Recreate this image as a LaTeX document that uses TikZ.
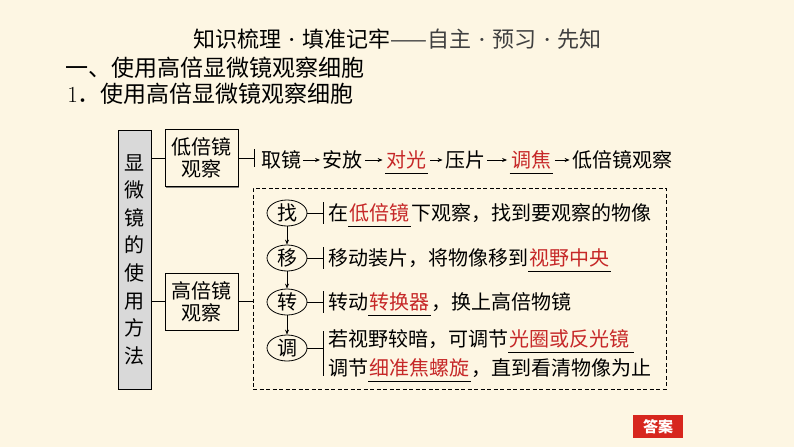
\documentclass[tikz,border=0pt]{standalone}
\usepackage{fontspec}
\newfontfamily\cjk{Noto Sans CJK SC}
\usetikzlibrary{shapes.geometric,arrows.meta,shadows}

\definecolor{sfondo}{HTML}{FDF6E3}
\definecolor{rosso}{HTML}{C62828}
\definecolor{barra}{HTML}{D9D9D9}
\definecolor{bottone}{HTML}{D7261E}

% risposta sottolineata in rosso
\newcommand{\ans}[1]{\leavevmode\setbox0\hbox{\kern1.5pt\textcolor{rosso}{#1}\kern1.5pt}\rlap{\rule[-6pt]{\wd0}{0.9pt}}\box0}
% punto centrale stretto
\newcommand{\pto}{{\rmfamily\bfseries\kern1pt·\kern1pt}}

\begin{document}
\begin{tikzpicture}[x=1pt, y=-1pt, line width=0.8pt,
    testo/.style={font=\cjk\fontsize{20}{24}\selectfont, inner sep=0pt, text height=16.8pt, text depth=1.6pt},
    titoletto/.style={font=\cjk\fontsize{23}{24}\selectfont, inner sep=0pt, anchor=west, text height=19.3pt, text depth=1.8pt},
    ombra/.style={drop shadow={shadow xshift=1.3pt, shadow yshift=-1.3pt, fill=black!70, opacity=0.7}},
    blocco/.style={draw, line width=0.9pt, fill=sfondo, ombra, align=center, inner sep=0pt,
        font=\cjk\fontsize{20}{22}\selectfont, minimum width=73pt, minimum height=57pt},
    tappa/.style={testo, ellipse, draw, minimum width=40pt, minimum height=25pt},
    riga/.style={testo, anchor=west, inner xsep=5pt, inner ysep=1pt},
    freccia/.style={-{Stealth[length=5pt,width=4pt]}, line width=0.7pt},
]

    % Sfondo
    \useasboundingbox[fill=sfondo] (0,0) rectangle (794,447);

    % Titoli
    \node[font=\cjk\fontsize{22}{24}\selectfont, inner sep=0pt, text height=18.5pt, text depth=1.8pt] (titolo) at (397.5,39) {知识梳理\pto 填准记牢\textcolor{black!75}{——自主\pto 预习\pto 先知}};
    \node[titoletto] (sezione) at (65,68) {一、使用高倍显微镜观察细胞};
    \node[titoletto] (punto) at (67,94) {{\rmfamily 1}．使用高倍显微镜观察细胞};

    % Barra verticale e riquadri
    \node[draw, fill=barra, line width=0.9pt, ombra, minimum width=33pt, minimum height=259pt, inner sep=0pt,
        align=center, font=\cjk\fontsize{20}{27.6}\selectfont] (metodo) at (134.5,259.5)
        {显\\微\\镜\\的\\使\\用\\方\\法};
    \node[blocco] (basso) at (201.5,158) {低倍镜\\观察};
    \node[blocco] (alto) at (201.5,301.5) {高倍镜\\观察};

    \draw (metodo.east |- basso) -- (basso.west);
    \draw (metodo.east |- alto) -- (alto.west);

    % Riga del basso ingrandimento
    \coordinate (bivio) at (254,158);
    \draw (basso.east) -- (bivio) ++(0,-9) -- ++(0,18);

    \node[testo] (s1) at (281,160) {取镜};
    \node[testo] (s2) at (342.5,160) {安放};
    \node[testo] (s3) at (406.5,160) {\ans{对光}};
    \node[testo] (s4) at (465,160) {压片};
    \node[testo] (s5) at (531,160) {\ans{调焦}};
    \node[testo] (s6) at (622,160) {低倍镜观察};

    \draw[freccia, shorten <=2pt, shorten >=2pt] (s1) -- (s2);
    \draw[freccia, shorten <=2pt, shorten >=2pt] (s2) -- (s3);
    \draw[freccia, shorten <=2pt, shorten >=2pt] (s3) -- (s4);
    \draw[freccia, shorten <=2pt, shorten >=2pt] (s4) -- (s5);
    \draw[freccia, shorten <=2pt, shorten >=2pt] (s5) -- (s6);

    % Riquadro tratteggiato dell'alto ingrandimento
    \node[draw, dash pattern=on 4pt off 2.5pt, minimum width=413pt, minimum height=201pt, inner sep=0pt] (cornice) at (459.5,288.5) {};
    \draw (alto.east) -- (alto.east -| cornice.west);

    % Passaggi
    \node[tappa] (c1) at (287,213) {找};
    \node[tappa] (c2) at (287,258) {移};
    \node[tappa] (c3) at (287,302) {转};
    \node[tappa] (c4) at (287,348) {调};

    \draw[freccia] (c1) -- (c2);
    \draw[freccia] (c2) -- (c3);
    \draw[freccia] (c3) -- (c4);

    \node[riga] (r1) at (323,213) {在\ans{低倍镜}下观察，找到要观察的物像};
    \node[riga] (r2) at (323,258) {移动装片，将物像移到\ans{视野中央}};
    \node[riga] (r3) at (323,302) {转动\ans{转换器}，换上高倍物镜};
    \node[riga] (r4) at (323,339) {若视野较暗，可调节\ans{光圈或反光镜\kern3pt}};
    \node[riga] (r5) at (323,368) {调节\ans{细准焦螺旋}，直到看清物像为止};

    \draw (c1.east) -- (c1.east -| r1.west);
    \draw (c2.east) -- (c2.east -| r2.west);
    \draw (c3.east) -- (c3.east -| r3.west);
    \draw (c4.east) -- (c4.east -| r4.west);

    \draw (r1.north west) -- (r1.south west);
    \draw (r2.north west) -- (r2.south west);
    \draw (r3.north west) -- (r3.south west);
    \draw ([yshift=-3pt]r4.north west) -- ([yshift=3pt]r5.south west);

    % Bottone
    \node[fill=bottone, text=white, font=\cjk\bfseries\fontsize{15}{16}\selectfont, minimum width=50pt, minimum height=23pt, inner sep=0pt] (risposta) at (658,426.5) {答案};

\end{tikzpicture}
\end{document}
